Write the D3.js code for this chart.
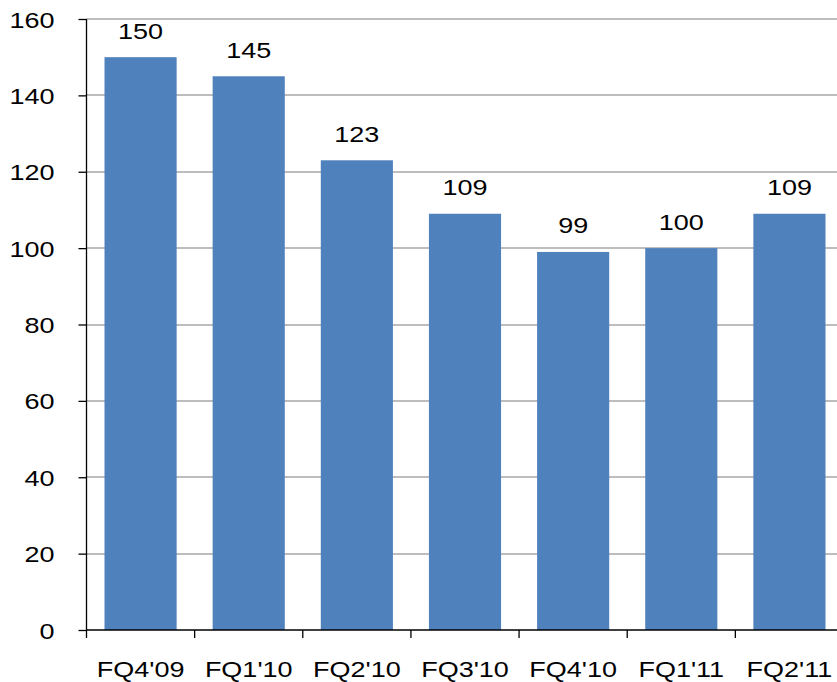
<!DOCTYPE html>
<html><head><meta charset="utf-8">
<script src="https://cdn.jsdelivr.net/npm/d3@7"></script>
<style>body{margin:0;background:#fff}svg{display:block}text{font-family:Arial,"Liberation Sans",sans-serif;fill:#000}</style>
</head><body>
<svg id="c" width="837" height="682"></svg>
<script>
const categories = ["FQ4'09","FQ1'10","FQ2'10","FQ3'10","FQ4'10","FQ1'11","FQ2'11"];
const values = [150,145,123,109,99,100,109];
const yTicks = [0,20,40,60,80,100,120,140,160];

const svg = d3.select("#c");
const FS = 22.5, SX = 1.2, FF = "Arial, 'Liberation Sans', sans-serif";
const x0 = 86.5, x1 = 843.5, yTop = 19, yBot = 630;
const x = d3.scaleBand().domain(categories).range([x0,x1]).paddingInner(0.333).paddingOuter(0.1665);
const y = d3.scaleLinear().domain([0,160]).range([yBot,yTop]);

// gridlines
svg.append("g").selectAll("line").data(yTicks.filter(d=>d>0)).join("line")
  .attr("x1",x0).attr("x2",837).attr("y1",d=>Math.round(y(d))).attr("y2",d=>Math.round(y(d)))
  .attr("stroke","#bdbdbd").attr("stroke-width",2);

// bars
svg.append("g").selectAll("rect").data(values).join("rect")
  .attr("x",(d,i)=>x(categories[i])).attr("width",x.bandwidth())
  .attr("y",d=>y(d)).attr("height",d=>y(0)-y(d))
  .attr("fill","#4F81BD");

// value labels
svg.append("g").selectAll("text").data(values).join("text")
  .attr("transform",(d,i)=>`translate(${x(categories[i])+x.bandwidth()/2},${y(d)-18.5}) scale(${SX},1)`)
  .attr("text-anchor","middle").attr("font-size",FS).text(d=>d);

// y axis
const ya = svg.append("g").attr("transform",`translate(${x0},0)`)
  .call(d3.axisLeft(y).tickValues(yTicks).tickSize(8));
ya.select(".domain").attr("stroke","#000").attr("stroke-width",1.3).attr("d",`M0,${yTop}V${yBot}`);
ya.selectAll(".tick line").attr("stroke","#000").attr("stroke-width",1.3);
ya.selectAll(".tick text").attr("x",0).attr("dy","0.36em")
  .attr("transform",`translate(-32,0) scale(${SX},1)`)
  .attr("font-size",FS).attr("font-family",FF).attr("fill","#000");

// x axis
const xa = svg.append("g").attr("transform",`translate(0,${yBot})`)
  .call(d3.axisBottom(x).tickSize(0));
xa.select(".domain").attr("stroke","#000").attr("stroke-width",1.3).attr("d",`M${x0},0H837`);
xa.selectAll(".tick text").attr("y",0).attr("dy",0)
  .attr("transform",`translate(0,47) scale(${SX},1)`)
  .attr("font-size",FS).attr("font-family",FF).attr("fill","#000");
const step = x.step();
svg.append("g").selectAll("line").data(d3.range(0,8)).join("line")
  .attr("x1",i=>x0+i*step).attr("x2",i=>x0+i*step).attr("y1",yBot).attr("y2",yBot+8)
  .attr("stroke","#000").attr("stroke-width",1.3);
</script>
</body></html>
